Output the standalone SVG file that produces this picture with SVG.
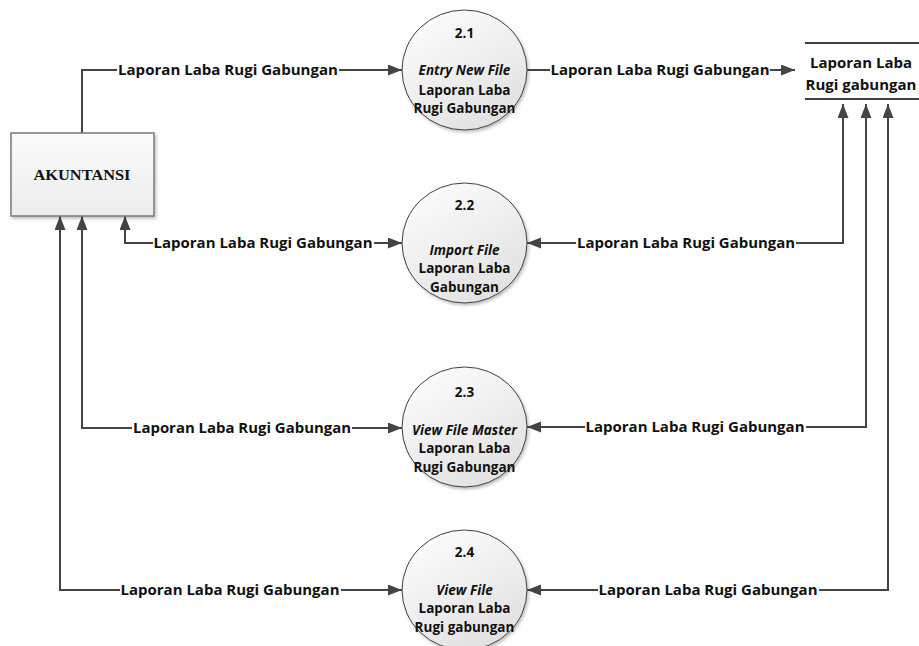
<svg xmlns="http://www.w3.org/2000/svg" width="919" height="646" viewBox="0 0 919 646">
<defs>
<style>
.lbl{font-family:"Open Sans","Liberation Sans",sans-serif;font-weight:700;font-size:14.5px;fill:#111;text-anchor:middle}
.ct{font-family:"Open Sans","Liberation Sans",sans-serif;font-weight:700;font-size:13.5px;fill:#111;text-anchor:middle}
.sd{font-size:15px}
.it{font-style:italic}
.proc{fill:url(#gc);stroke:#404040;stroke-width:1;filter:url(#sh)}
.con{fill:none;stroke:#444;stroke-width:2}
.st{stroke:#404040;stroke-width:2}
</style>
<linearGradient id="gc" x1="0" y1="0" x2="0.6" y2="1">
<stop offset="0" stop-color="#ffffff"/>
<stop offset="1" stop-color="#e2e2e2"/>
</linearGradient>
<linearGradient id="gb" x1="0" y1="0" x2="0" y2="1">
<stop offset="0" stop-color="#fbfbfb"/>
<stop offset="1" stop-color="#ececec"/>
</linearGradient>
<filter id="sh" x="-10%" y="-10%" width="130%" height="130%">
<feDropShadow dx="1.5" dy="2" stdDeviation="1.5" flood-color="#000" flood-opacity="0.25"/>
</filter>
<marker id="ar" markerUnits="userSpaceOnUse" markerWidth="16" markerHeight="12" refX="14" refY="5.5" orient="auto-start-reverse" viewBox="0 0 16 12">
<path d="M0,0 L14,5.5 L0,11 z" fill="#444"/>
</marker>
</defs>
<rect width="919" height="646" fill="#fff"/>

<g id="connectors">
<path class="con" d="M82,133 V70 H117"/>
<path class="con" d="M339,70 H402" marker-end="url(#ar)"/>
<text class="lbl" x="228" y="75" textLength="220" lengthAdjust="spacingAndGlyphs">Laporan Laba Rugi Gabungan</text>

<path class="con" d="M527,70 H550"/>
<path class="con" d="M770,70 H795" marker-end="url(#ar)"/>
<text class="lbl" x="660" y="75" textLength="219" lengthAdjust="spacingAndGlyphs">Laporan Laba Rugi Gabungan</text>

<path class="con" d="M843,104 V243 H796" marker-start="url(#ar)"/>
<path class="con" d="M576,243 H527" marker-end="url(#ar)"/>
<text class="lbl" x="686" y="248" textLength="218" lengthAdjust="spacingAndGlyphs">Laporan Laba Rugi Gabungan</text>

<path class="con" d="M866,104 V427 H806" marker-start="url(#ar)"/>
<path class="con" d="M585,427 H527" marker-end="url(#ar)"/>
<text class="lbl" x="695" y="432" textLength="219" lengthAdjust="spacingAndGlyphs">Laporan Laba Rugi Gabungan</text>

<path class="con" d="M888,104 V590 H819" marker-start="url(#ar)"/>
<path class="con" d="M598,590 H527" marker-end="url(#ar)"/>
<text class="lbl" x="708" y="595" textLength="219" lengthAdjust="spacingAndGlyphs">Laporan Laba Rugi Gabungan</text>

<path class="con" d="M125,216 V243 H153" marker-start="url(#ar)"/>
<path class="con" d="M374,243 H402" marker-end="url(#ar)"/>
<text class="lbl" x="263" y="248" textLength="219" lengthAdjust="spacingAndGlyphs">Laporan Laba Rugi Gabungan</text>

<path class="con" d="M82,216 V428 H132" marker-start="url(#ar)"/>
<path class="con" d="M352,428 H402" marker-end="url(#ar)"/>
<text class="lbl" x="242" y="433" textLength="218" lengthAdjust="spacingAndGlyphs">Laporan Laba Rugi Gabungan</text>

<path class="con" d="M60,216 V590 H120" marker-start="url(#ar)"/>
<path class="con" d="M341,590 H402" marker-end="url(#ar)"/>
<text class="lbl" x="230" y="595" textLength="219" lengthAdjust="spacingAndGlyphs">Laporan Laba Rugi Gabungan</text>
</g>

<g id="akuntansi">
<rect x="11" y="133" width="143" height="83" fill="url(#gb)" stroke="#7a7a7a" stroke-width="1.5" filter="url(#sh)"/>
<text x="82" y="180" font-family="'Liberation Serif','Times New Roman',serif" font-weight="700" font-size="14.5" fill="#111" text-anchor="middle" textLength="97" lengthAdjust="spacingAndGlyphs">AKUNTANSI</text>
</g>

<g id="p21">
<ellipse class="proc" cx="464.5" cy="70" rx="62.5" ry="60"/>
<text class="ct" x="464.5" y="38">2.1</text>
<text class="ct it" x="464.5" y="75">Entry New File</text>
<text class="ct" x="464.5" y="95">Laporan Laba</text>
<text class="ct" x="464.5" y="113">Rugi Gabungan</text>
</g>

<g id="p22">
<ellipse class="proc" cx="464.5" cy="243" rx="62.5" ry="60"/>
<text class="ct" x="464.5" y="210">2.2</text>
<text class="ct it" x="464.5" y="255">Import File</text>
<text class="ct" x="464.5" y="273">Laporan Laba</text>
<text class="ct" x="464.5" y="292">Gabungan</text>
</g>

<g id="p23">
<ellipse class="proc" cx="464.5" cy="427" rx="62.5" ry="60"/>
<text class="ct" x="464.5" y="397">2.3</text>
<text class="ct it" x="464.5" y="435">View File Master</text>
<text class="ct" x="464.5" y="453">Laporan Laba</text>
<text class="ct" x="464.5" y="472">Rugi Gabungan</text>
</g>

<g id="p24">
<ellipse class="proc" cx="464.5" cy="590" rx="62.5" ry="60"/>
<text class="ct" x="464.5" y="557">2.4</text>
<text class="ct it" x="464.5" y="595">View File</text>
<text class="ct" x="464.5" y="613">Laporan Laba</text>
<text class="ct" x="464.5" y="632">Rugi gabungan</text>
</g>

<g id="store">
<line class="st" x1="805" y1="43" x2="919" y2="43"/>
<line class="st" x1="805" y1="99" x2="919" y2="99"/>
<text class="ct sd" x="861" y="68">Laporan Laba</text>
<text class="ct sd" x="861" y="90">Rugi gabungan</text>
</g>
</svg>
